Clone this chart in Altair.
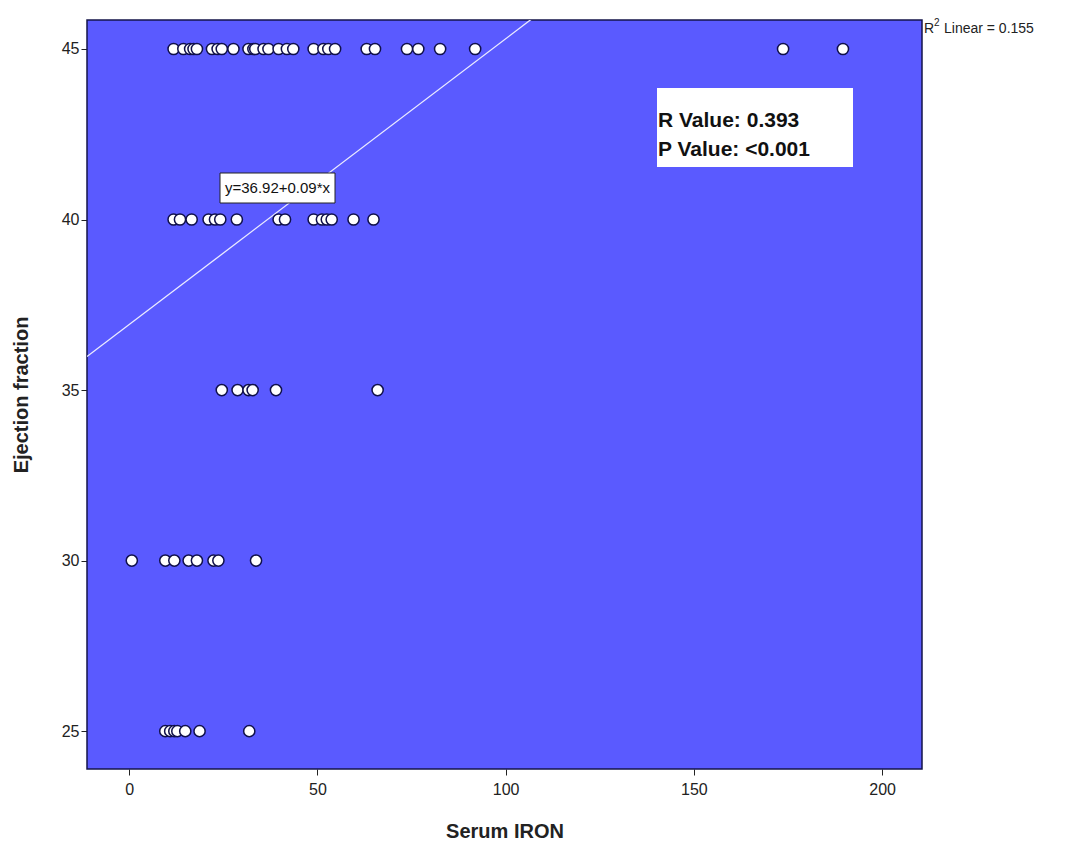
import altair as alt
import pandas as pd

# Serum IRON values for each ejection-fraction level
ef45_iron = [11.8, 14.4, 16.2, 17.1, 18.0, 22.0, 23.5, 24.6, 27.7, 31.7, 33.0, 33.5, 35.7,
             37.0, 39.7, 41.9, 43.6, 49.0, 51.6, 52.9, 54.7, 63.1, 65.3, 73.8, 76.8,
             82.6, 91.9, 173.7, 189.6]
ef40_iron = [11.8, 13.5, 16.6, 21.1, 22.8, 24.2, 28.6, 39.7, 41.4, 49.0, 51.2, 52.5,
             53.8, 59.6, 64.9]
ef35_iron = [24.6, 28.8, 31.7, 32.8, 39.0, 66.0]
ef30_iron = [0.7, 9.6, 12.0, 15.8, 18.0, 22.4, 23.7, 33.7]
ef25_iron = [9.6, 10.9, 12.0, 12.8, 14.9, 18.7, 31.9]

ef_levels = [45, 40, 35, 30, 25]
groups = [ef45_iron, ef40_iron, ef35_iron, ef30_iron, ef25_iron]

# fitted line
intercept = 36.92
slope = 0.0838
x_domain = [-11.2, 210.6]
y_domain = [23.89, 45.85]

x_ticks = [0, 50, 100, 150, 200]
y_ticks = [25, 30, 35, 40, 45]

rows = []
for ef, vals in zip(ef_levels, groups):
    for v in vals:
        rows.append({"iron": v, "ef": ef})
pts = pd.DataFrame(rows)

line_df = pd.DataFrame({"iron": x_domain,
                        "ef": [intercept + slope * x for x in x_domain]})

FONT = "Liberation Sans"

xscale = alt.Scale(domain=x_domain, nice=False, zero=False)
yscale = alt.Scale(domain=y_domain, nice=False, zero=False)

xaxis = alt.Axis(title="Serum IRON", values=x_ticks, grid=False, tickSize=6,
                 labelFontSize=16, labelColor="#222", titleFontSize=20,
                 titleFontWeight="bold", titleColor="#222", titlePadding=24,
                 domain=False, tickColor="#222", labelPadding=6, labelFont=FONT,
                 titleFont=FONT)
yaxis = alt.Axis(title="Ejection fraction", values=y_ticks, grid=False, tickSize=6,
                 labelFontSize=16, labelColor="#222", titleFontSize=20,
                 titleFontWeight="bold", titleColor="#222", titlePadding=30,
                 domain=False, tickColor="#222", labelPadding=2, labelFont=FONT,
                 titleFont=FONT)

ann = pd.DataFrame({"k": [0]})

bg = alt.Chart(ann).mark_rect(fill="#5a5aff", stroke="#14144a", strokeWidth=1.5).encode(
    x=alt.value(0), x2=alt.value(835), y=alt.value(0), y2=alt.value(749))

line = alt.Chart(line_df).mark_line(color="#ececff", strokeWidth=1.3, clip=True).encode(
    x=alt.X("iron:Q", scale=xscale, axis=xaxis),
    y=alt.Y("ef:Q", scale=yscale, axis=yaxis),
)

points = alt.Chart(pts).mark_point(
    shape="circle", filled=True, fill="white", stroke="#10104a", strokeWidth=1.5,
    size=125, opacity=1
).encode(
    x=alt.X("iron:Q", scale=xscale),
    y=alt.Y("ef:Q", scale=yscale),
)

eq_box = alt.Chart(ann).mark_rect(fill="white", stroke="#222", strokeWidth=1).encode(
    x=alt.value(133), x2=alt.value(248), y=alt.value(153), y2=alt.value(183))
eq_text = alt.Chart(ann).mark_text(text="y=36.92+0.09*x", fontSize=15, font=FONT,
                                   color="#111", align="center", baseline="middle").encode(
    x=alt.value(190.5), y=alt.value(168))

rp_box = alt.Chart(ann).mark_rect(fill="white").encode(
    x=alt.value(570), x2=alt.value(766), y=alt.value(68), y2=alt.value(147))
r_text = alt.Chart(ann).mark_text(text="R Value: 0.393", fontSize=21, fontWeight="bold",
                                  font=FONT, color="#111", align="left",
                                  baseline="middle").encode(
    x=alt.value(571), y=alt.value(101))
p_text = alt.Chart(ann).mark_text(text="P Value: <0.001", fontSize=21, fontWeight="bold",
                                  font=FONT, color="#111", align="left",
                                  baseline="middle").encode(
    x=alt.value(571), y=alt.value(130))

r2_r = alt.Chart(ann).mark_text(text="R", fontSize=14, font=FONT,
                                color="#222", align="left", baseline="middle").encode(
    x=alt.value(837), y=alt.value(9))
r2_sup = alt.Chart(ann).mark_text(text="2", fontSize=10, font=FONT,
                                  color="#222", align="left", baseline="middle").encode(
    x=alt.value(847), y=alt.value(3))
r2_rest = alt.Chart(ann).mark_text(text="Linear = 0.155", fontSize=14, font=FONT,
                                   color="#222", align="left", baseline="middle").encode(
    x=alt.value(857), y=alt.value(9))

chart = alt.layer(bg, line, points, eq_box, eq_text, rp_box, r_text, p_text,
                  r2_r, r2_sup, r2_rest).properties(
    width=835, height=749,
    padding={"left": 79, "top": 12, "right": 150, "bottom": 80},
    autosize=alt.AutoSizeParams(type="none"),
).configure_view(
    stroke=None
)

chart.save("out.html", embed_options={"renderer": "svg", "actions": False})
